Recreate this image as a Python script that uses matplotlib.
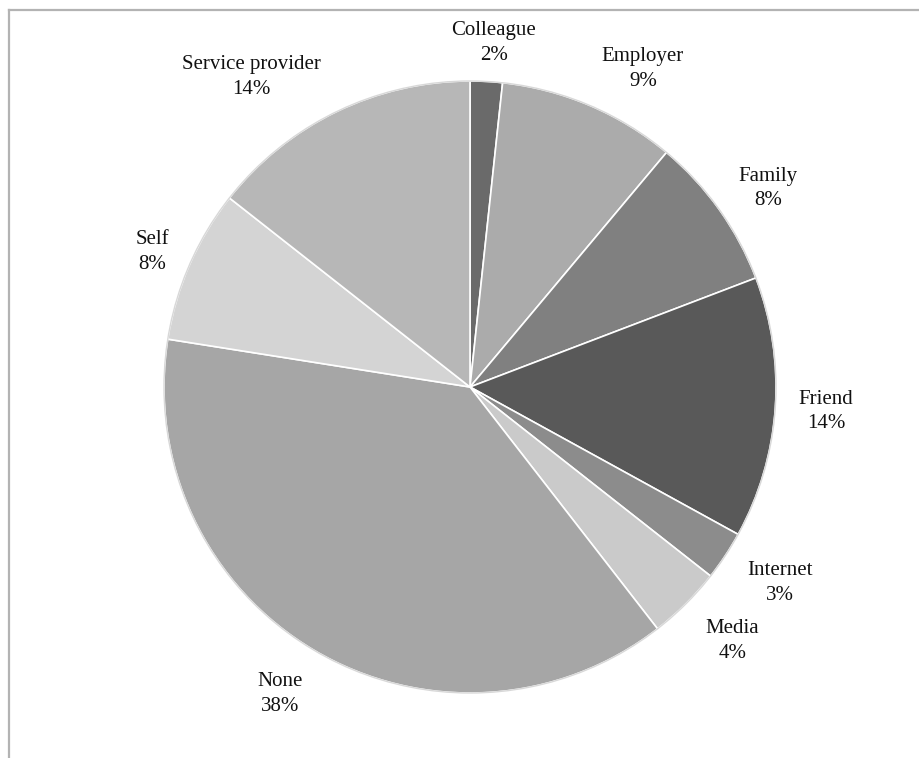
import numpy as np
import matplotlib
matplotlib.use("Agg")
import matplotlib.pyplot as plt
from matplotlib.lines import Line2D

# ============================================================
# DATA
# ============================================================
categories = ["Colleague", "Employer", "Family", "Friend", "Internet",
              "Media", "None", "Self", "Service provider"]
shares = [1.7, 9.4, 8.1, 13.8, 2.6, 3.9, 38.0, 8.1, 14.4]
colors = ["#6a6a6a", "#ababab", "#808080", "#595959", "#8c8c8c",
          "#cacaca", "#a6a6a6", "#d4d4d4", "#b7b7b7"]

# ============================================================
# FIGURE
# ============================================================
W, H, DPI = 919, 758, 100
fig = plt.figure(figsize=(W / DPI, H / DPI), dpi=DPI)
fig.patch.set_facecolor("white")

# frame lines (top and left) like the source page
fig.add_artist(Line2D([9 / W, 1.0], [1 - 9.5 / H, 1 - 9.5 / H],
                      transform=fig.transFigure, color="#b3b3b3", lw=1.6))
fig.add_artist(Line2D([9 / W, 9 / W], [0.0, 1 - 9.5 / H],
                      transform=fig.transFigure, color="#b3b3b3", lw=1.6))

cx, cy, R = 470, 387, 306
half = 350
ax = fig.add_axes([(cx - half) / W, (H - cy - half) / H, 2 * half / W, 2 * half / H])

wedges, _ = ax.pie(
    shares,
    colors=colors,
    startangle=90,
    counterclock=False,
    radius=1.0,
    wedgeprops=dict(edgecolor="white", linewidth=1.2),
)
# faint outline around the pie
ax.add_patch(plt.Circle((0, 0), 1.0, fill=False, ec="#d8d8d8", lw=1.0))

lim = half / R
ax.set_xlim(-lim, lim)
ax.set_ylim(-lim, lim)
ax.set_aspect("equal")
ax.axis("off")

# label placement: (angle nudge in degrees, clockwise; distance in radii)
label_nudge = [0.9, 5.5, 1.8, 0, -1.2, -1.1, 1.2, -0.6, -9.3]
label_dist = [1.127, 1.183, 1.171, 1.166, 1.199, 1.193, 1.180, 1.129, 1.240]
for w, name, v, nd, d in zip(wedges, categories, shares, label_nudge, label_dist):
    mid = np.deg2rad((w.theta1 + w.theta2) / 2 - nd)
    x, y = d * np.cos(mid), d * np.sin(mid)
    ax.text(x, y, f"{name}\n{round(v)}%", ha="center", va="center",
            fontsize=15, family="Liberation Serif", color="#111111",
            linespacing=1.4)

fig.savefig("out.png", dpi=DPI, facecolor="white")
